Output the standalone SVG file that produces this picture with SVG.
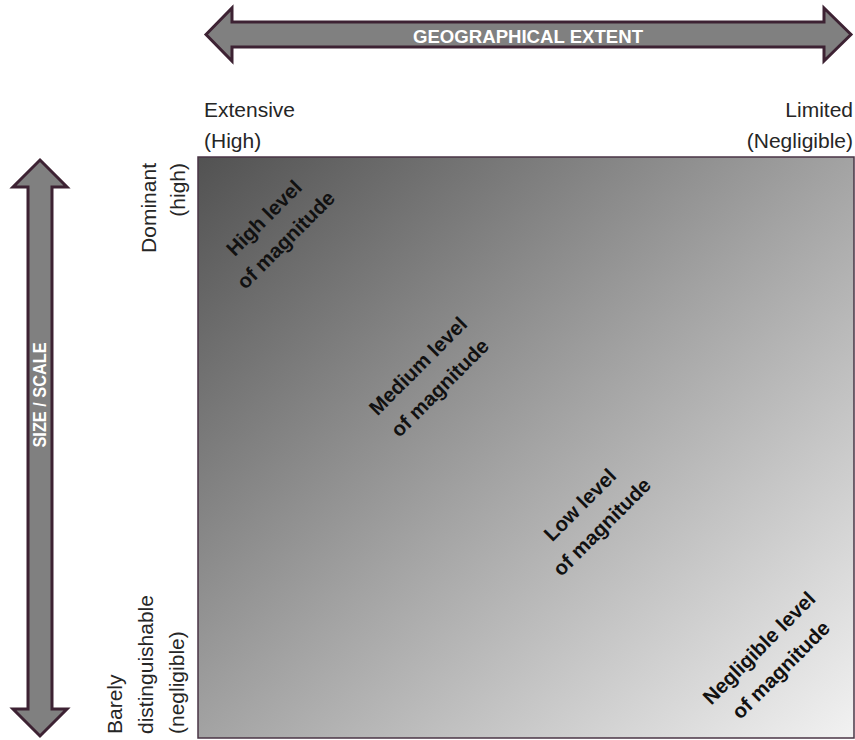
<svg xmlns="http://www.w3.org/2000/svg" width="855" height="740" viewBox="0 0 855 740">
  <defs>
    <linearGradient id="gradMatrix" x1="0" y1="0" x2="1" y2="1">
      <stop offset="0" stop-color="#525252"/>
      <stop offset="0.5" stop-color="#a3a3a3"/>
      <stop offset="1" stop-color="#f2f2f2"/>
    </linearGradient>
    <style>
      .arrow { fill: #808080; stroke: #3d2233; stroke-width: 3; stroke-linejoin: miter; }
      .axis-title { font-family: "Liberation Sans", Arial, sans-serif; font-weight: bold; font-size: 18px; fill: #ffffff; }
      .lbl { font-family: "Liberation Sans", Arial, sans-serif; font-size: 21px; fill: #262626; }
      .diag { font-family: "Liberation Sans", Arial, sans-serif; font-weight: bold; font-size: 20.5px; fill: #111111; text-anchor: middle; }
    </style>
  </defs>

  <g id="connectors">
    <g id="axis-geographical-extent">
      <polygon class="arrow" points="206,34.5 232,8 232,22 824,22 824,8 851,34.5 824,61 824,47 232,47 232,61"/>
      <text class="axis-title" x="528" y="43" text-anchor="middle" textLength="230" lengthAdjust="spacingAndGlyphs">GEOGRAPHICAL EXTENT</text>
    </g>
    <g id="axis-size-scale">
      <polygon class="arrow" points="40,160 67,187 52,187 52,709 67,709 40,736 13,709 28,709 28,187 13,187"/>
      <text class="axis-title" transform="translate(46,395) rotate(-90)" text-anchor="middle" textLength="105" lengthAdjust="spacingAndGlyphs">SIZE / SCALE</text>
    </g>
  </g>

  <g id="matrix">
    <rect x="198" y="157" width="656" height="581" fill="url(#gradMatrix)" stroke="#4a3545" stroke-width="1.5"/>
  </g>

  <g id="label-extensive">
    <text class="lbl" x="204" y="117">Extensive</text>
    <text class="lbl" x="204" y="148">(High)</text>
  </g>
  <g id="label-limited">
    <text class="lbl" x="853" y="117" text-anchor="end">Limited</text>
    <text class="lbl" x="853" y="148" text-anchor="end">(Negligible)</text>
  </g>
  <g id="label-dominant">
    <text class="lbl" transform="translate(156,163) rotate(-90)" text-anchor="end">Dominant</text>
    <text class="lbl" transform="translate(185,163) rotate(-90)" text-anchor="end">(high)</text>
  </g>
  <g id="label-barely">
    <text class="lbl" transform="translate(122,734) rotate(-90)">Barely</text>
    <text class="lbl" transform="translate(153,734) rotate(-90)">distinguishable</text>
    <text class="lbl" transform="translate(184,734) rotate(-90)">(negligible)</text>
  </g>

  <g id="node-high" transform="translate(276,230) rotate(-45)">
    <text class="diag" x="0" y="-10">High level</text>
    <text class="diag" x="0" y="21">of magnitude</text>
  </g>
  <g id="node-medium" transform="translate(430,378) rotate(-45)">
    <text class="diag" x="0" y="-10">Medium level</text>
    <text class="diag" x="0" y="21">of magnitude</text>
  </g>
  <g id="node-low" transform="translate(592,517) rotate(-45)">
    <text class="diag" x="0" y="-10">Low level</text>
    <text class="diag" x="0" y="21">of magnitude</text>
  </g>
  <g id="node-negligible" transform="translate(771,660) rotate(-45)">
    <text class="diag" x="0" y="-10">Negligible level</text>
    <text class="diag" x="0" y="21">of magnitude</text>
  </g>
</svg>
